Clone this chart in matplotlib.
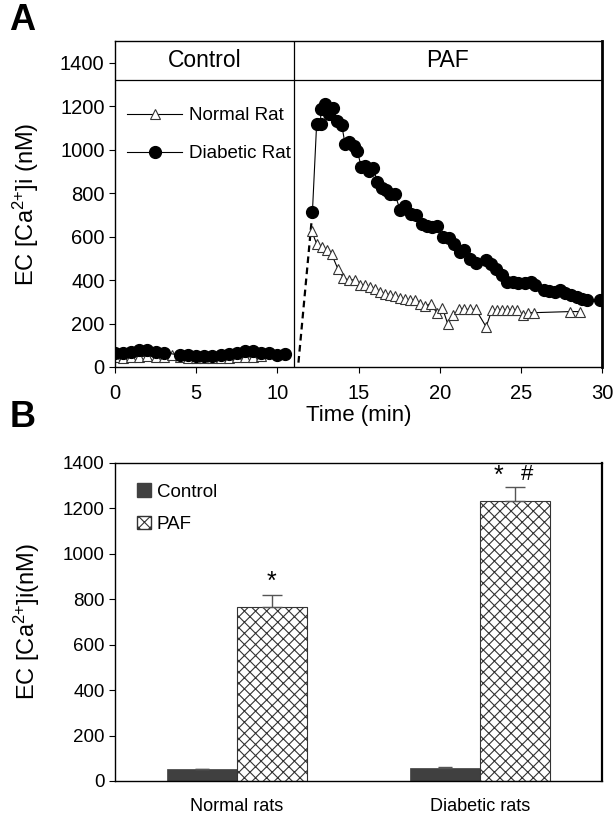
"""Recreate the two-panel EC [Ca2+]i figure (time course + bar summary)."""
import matplotlib
matplotlib.use("Agg")
import matplotlib.pyplot as plt
from matplotlib.lines import Line2D
from matplotlib.patches import Patch

plt.rcParams["font.family"] = ["Liberation Sans", "DejaVu Sans"]
plt.rcParams["mathtext.default"] = "regular"
plt.rcParams["hatch.linewidth"] = 0.8

# ---- panel A: time course ----
ctrl_t = [0.0, 0.5, 1.0, 1.5, 2.0, 2.5, 3.0, 4.0, 4.5, 5.0, 5.5, 6.0, 6.5,
          7.0, 7.5, 8.0, 8.5, 9.0, 9.5, 10.0, 10.5]
ctrl_diabetic = [63, 66, 70, 78, 78, 70, 66, 55, 55, 50, 50, 50, 53, 58,
                 66, 73, 73, 66, 63, 55, 58]
ctrl_normal_t = [0.0, 0.5, 1.0, 1.5, 2.0, 2.5, 3.0, 3.5, 4.0, 4.5, 5.0, 5.5,
                 6.0, 6.5, 7.0, 7.5, 8.0, 8.5, 9.0]
ctrl_normal = [45, 42, 45, 48, 50, 48, 45, 55, 48, 42, 40, 40, 42, 40, 42,
               45, 48, 45, 50]

paf_t_diabetic = [12.16, 12.42, 12.67, 12.67, 12.94, 13.2, 13.45, 13.7, 13.97,
                  14.17, 14.44, 14.73, 14.93, 15.16, 15.42, 15.67, 15.92,
                  16.16, 16.43, 16.7, 16.94, 17.25, 17.56, 17.89, 18.22,
                  18.55, 18.9, 19.2, 19.51, 19.82, 20.23, 20.56, 20.89, 21.26,
                  21.52, 21.87, 22.24, 22.86, 23.17, 23.47, 23.83, 24.13,
                  24.5, 24.85, 25.26, 25.61, 25.88, 26.43, 26.76, 27.11,
                  27.42, 27.73, 28.08, 28.45, 28.75, 29.1, 29.88]
paf_diabetic = [712, 1118, 1118, 1186, 1212, 1163, 1191, 1130, 1113, 1026,
                1037, 1015, 995, 922, 927, 900, 916, 850, 824, 815, 796, 794,
                723, 739, 705, 700, 659, 648, 644, 648, 598, 595, 567, 529,
                540, 498, 478, 491, 475, 453, 422, 391, 391, 387, 387, 391,
                376, 353, 350, 345, 353, 341, 330, 323, 315, 307, 307]

paf_t_normal = [12.12, 12.42, 12.73, 13.04, 13.35, 13.72, 14.07, 14.44, 14.79,
                15.1, 15.4, 15.71, 16.02, 16.33, 16.64, 16.94, 17.25, 17.56,
                17.87, 18.18, 18.48, 18.79, 19.1, 19.45, 19.82, 20.17, 20.5,
                20.85, 21.2, 21.52, 21.87, 22.22, 22.86, 23.21, 23.52, 23.83,
                24.14, 24.44, 24.75, 25.16, 25.47, 25.82, 28.03, 28.65]
paf_normal = [625, 567, 552, 537, 518, 453, 410, 399, 402, 379, 376, 368, 361,
              345, 338, 333, 327, 319, 312, 307, 307, 289, 280, 292, 249, 272,
              197, 239, 265, 265, 265, 265, 185, 261, 261, 261, 261, 261, 261,
              239, 250, 250, 255, 255]

# ---- panel B: bar summary ----
groups = ["Normal rats", "Diabetic rats"]
control_mean = [52, 56]
control_err = [2, 7]
paf_mean = [768, 1233]
paf_err = [50, 63]

fig = plt.figure(figsize=(6.13, 8.19), dpi=100)

# panel A
ax = fig.add_axes([0.1876, 0.5519, 0.7945, 0.398])
ax.plot(ctrl_normal_t, ctrl_normal, "-", color="k", lw=0.8, marker="^",
        ms=6.5, mfc="white", mec="#333333", mew=0.8)
ax.plot(ctrl_t, ctrl_diabetic, "-", color="k", lw=0.8, marker="o", ms=8.5,
        mfc="k", mec="k")
ax.plot([11.3, paf_t_diabetic[0]], [20, paf_diabetic[0]], "--", color="k",
        lw=1.6, dashes=(3, 2))
ax.plot(paf_t_diabetic, paf_diabetic, "-", color="k", lw=0.8, marker="o",
        ms=8.5, mfc="k", mec="k")
ax.plot(paf_t_normal, paf_normal, "-", color="k", lw=0.8, marker="^", ms=6.5,
        mfc="white", mec="#333333", mew=0.8)

ax.axvline(11, color="k", lw=0.9)
ax.axhline(1320, color="k", lw=0.9)
ax.text(5.5, 1410, "Control", ha="center", va="center", fontsize=16.5)
ax.text(20.5, 1410, "PAF", ha="center", va="center", fontsize=16.5)

ax.set_xlim(0, 30)
ax.set_ylim(0, 1500)
ax.set_xticks([0, 5, 10, 15, 20, 25, 30])
ax.set_yticks(range(0, 1401, 200))
ax.tick_params(direction="out", labelsize=14.5, length=4)
ax.tick_params(axis="x", pad=8)
ax.set_xlabel("Time (min)", fontsize=16, labelpad=2)
ax.set_ylabel("EC [Ca$^{2{+}}$]i (nM)", fontsize=17, labelpad=14)
for s in ax.spines.values():
    s.set_linewidth(1.0)
ax.spines["right"].set_linewidth(2.0)

handles = [
    Line2D([], [], color="k", lw=0.8, marker="^", ms=6.5, mfc="white",
           mec="#333333", mew=0.8),
    Line2D([], [], color="k", lw=0.8, marker="o", ms=8.5, mfc="k", mec="k"),
]
ax.legend(handles, ["Normal Rat", "Diabetic Rat"], loc="upper left",
          bbox_to_anchor=(0.01, 0.82), frameon=False, fontsize=13.5,
          handlelength=2.9, handletextpad=0.4, labelspacing=1.1,
          borderaxespad=0)

fig.text(0.015, 0.975, "A", fontsize=26, fontweight="bold", va="center")

# panel B
bx = fig.add_axes([0.1876, 0.0464, 0.7945, 0.3883])
x = [0, 1]
w = 0.288
bx.bar([i - w / 2 for i in x], control_mean, w, color="#404040",
       edgecolor="#404040", lw=0.5,
       yerr=[[0, 0], control_err], ecolor="#555555", capsize=5,
       error_kw={"elinewidth": 1.0, "capthick": 1.0})
bx.bar([i + w / 2 for i in x], paf_mean, w, color="white", edgecolor="#333333",
       lw=0.8, hatch="xxx",
       yerr=[[0, 0], paf_err], ecolor="#555555", capsize=7,
       error_kw={"elinewidth": 1.0, "capthick": 1.0})
bx.text(x[0] + w / 2, 875, "*", ha="center", va="center", fontsize=18)
bx.text(x[1] + w / 2 - 0.07, 1345, "*", ha="center", va="center", fontsize=18)
bx.text(x[1] + w / 2 + 0.05, 1350, "#", ha="center", va="center", fontsize=16)

bx.set_xlim(-0.5, 1.5)
bx.set_ylim(0, 1400)
bx.set_xticks(x)
bx.set_xticklabels(groups)
bx.set_yticks(range(0, 1401, 200))
bx.tick_params(axis="y", direction="out", labelsize=13.5, length=4)
bx.tick_params(axis="x", length=0, labelsize=13, pad=12)
bx.set_ylabel("EC [Ca$^{2{+}}$]i(nM)", fontsize=17, labelpad=15)
for s in bx.spines.values():
    s.set_linewidth(1.0)
bx.spines["right"].set_linewidth(1.6)

bhandles = [Patch(facecolor="#404040", edgecolor="#404040"),
            Patch(facecolor="white", edgecolor="#333333", hatch="xxx")]
bx.legend(bhandles, ["Control", "PAF"], loc="upper left",
          bbox_to_anchor=(0.03, 0.96), frameon=False, fontsize=13.5,
          handlelength=0.75, handleheight=0.75, handletextpad=0.3,
          labelspacing=0.8, borderaxespad=0)

fig.text(0.015, 0.49, "B", fontsize=26, fontweight="bold", va="center")

fig.savefig("out.png", dpi=100)
